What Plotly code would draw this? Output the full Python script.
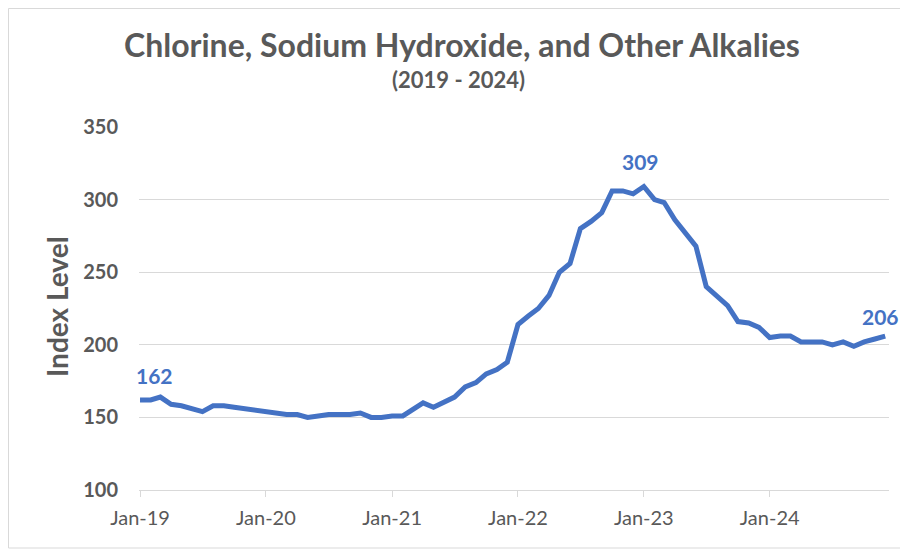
import plotly.graph_objects as go
import pandas as pd

# Monthly index values, Jan-2019 .. Dec-2024
months = pd.date_range("2019-01-01", "2024-12-01", freq="MS").strftime("%Y-%m-%d").tolist()
values = [
    162, 162, 164, 159, 158, 156, 154, 158, 158, 157, 156, 155,   # 2019
    154, 153, 152, 152, 150, 151, 152, 152, 152, 153, 150, 150,   # 2020
    151, 151, 155, 160, 157, 161, 164, 171, 174, 180, 183, 188,   # 2021
    214, 220, 225, 234, 250, 256, 280, 285, 291, 306, 306, 304,   # 2022
    309, 300, 298, 286, 277, 268, 240, 234, 227, 216, 215, 212,   # 2023
    205, 206, 206, 202, 202, 202, 200, 202, 199, 202, 204, 206,   # 2024
]
tick_vals = ["2019-01-01", "2020-01-01", "2021-01-01", "2022-01-01", "2023-01-01", "2024-01-01"]
tick_text = ["Jan-19", "Jan-20", "Jan-21", "Jan-22", "Jan-23", "Jan-24"]
y_ticks = [100, 150, 200, 250, 300, 350]

title = "Chlorine, Sodium Hydroxide, and Other Alkalies"
subtitle = "(2019 - 2024)"
y_title = "Index Level"

BLUE = "#4472C4"
GRAY = "#595959"
GRID = "#D9D9D9"
FONT = "Lato"

# page offset (browser default body margin)
OFF = 8
# plot area in page pixels
PX0, PX1, PY0, PY1 = 139, 889, 127, 490
W, H = 900, 542
L, T = PX0 - OFF, PY0 - OFF
R = W - (PX1 - OFF)
B = H - (PY1 - OFF)
pw, ph = PX1 - PX0, PY1 - PY0

def px(xp):
    return (xp - PX0) / pw

def py(yp):
    return (PY1 - yp) / ph

fig = go.Figure()
fig.add_trace(go.Scatter(
    x=months, y=values, mode="lines",
    line=dict(color=BLUE, width=5),
    hoverinfo="x+y", showlegend=False,
))

# Data labels on first, peak and last points
peak_i = values.index(max(values))
for i, xs, ys in [(0, 14, 24), (peak_i, -3, 25), (len(values) - 1, -5, 20)]:
    fig.add_annotation(
        x=months[i], y=values[i], text=f"<b>{values[i]}</b>", showarrow=False,
        xshift=xs, yshift=ys, xanchor="center", yanchor="middle",
        font=dict(family=FONT, size=21, color=BLUE),
    )

fig.add_annotation(x=px(462), y=py(45), xref="paper", yref="paper", text=f"<b>{title}</b>",
                   xanchor="center", yanchor="middle", showarrow=False,
                   font=dict(family=FONT, size=32, color=GRAY))
fig.add_annotation(x=px(458), y=py(80), xref="paper", yref="paper", text=f"<b>{subtitle}</b>",
                   xanchor="center", yanchor="middle", showarrow=False,
                   font=dict(family=FONT, size=22, color=GRAY))
fig.add_annotation(x=px(57), y=py(307), xref="paper", yref="paper", text=f"<b>{y_title}</b>",
                   xanchor="center", yanchor="middle", textangle=-90, showarrow=False,
                   font=dict(family=FONT, size=28, color=GRAY))

# outer chart border
fig.add_shape(type="rect", xref="paper", yref="paper",
              x0=px(8.5), x1=px(906.5), y0=py(548), y1=py(8.5),
              line=dict(color=GRID, width=1), fillcolor="rgba(0,0,0,0)", layer="below")

fig.update_layout(
    width=W, height=H,
    margin=dict(l=L, r=R, t=T, b=B, pad=0),
    paper_bgcolor="white", plot_bgcolor="white",
    font=dict(family=FONT, color=GRAY),
    xaxis=dict(
        type="date", range=["2018-12-29", "2024-12-12"],
        tickvals=tick_vals, ticktext=tick_text,
        showgrid=False, showline=True, linecolor=GRID, linewidth=1,
        ticks="outside", ticklen=6, tickcolor=GRID, ticklabelstandoff=4,
        tickfont=dict(family=FONT, size=20, color=GRAY), zeroline=False,
    ),
    yaxis=dict(
        range=[100, 350], tickvals=y_ticks,
        showgrid=True, gridcolor=GRID, gridwidth=1, zeroline=False,
        showline=False, ticks="", ticklabelstandoff=20,
        tickfont=dict(family=FONT, size=20, color=GRAY, weight="bold"),
    ),
)

fig.write_html("out.html")
